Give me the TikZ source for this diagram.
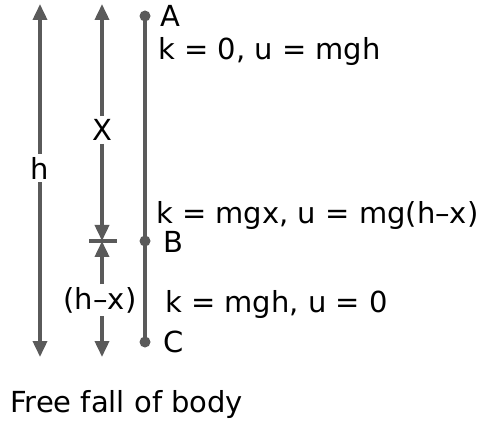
\documentclass[tikz,border=0pt]{standalone}
\usepackage{fontspec}
\setmainfont{DejaVu Sans}
\usetikzlibrary{arrows.meta}
\definecolor{ink}{HTML}{5A5A5A}
\tikzset{
  dim/.style={draw=ink, line width=3.6pt, -{Triangle[length=16pt,width=14pt]}},
  rod/.style={draw=ink, line width=3.6pt},
  txt/.style={font=\fontsize{29}{33}\selectfont, text=black, inner sep=0pt, anchor=base west},
  lab/.style={font=\fontsize{29}{33}\selectfont, text=black, fill=white, inner sep=3pt},
  pt/.style={circle, fill=ink, inner sep=0pt, minimum size=11pt}
}
\begin{document}
\begin{tikzpicture}[x=1pt,y=-1pt]
\useasboundingbox (0,0) rectangle (482,422);
% points
\node[pt] (A) at (145,16) {};
\node[pt] (B) at (145,241) {};
\node[pt] (C) at (145,342) {};
\draw[rod] (A.center) -- (C.center);
% h arrow
\coordinate (hT) at (40,4);
\coordinate (hB) at (40,357);
\node[lab] (h) at (40,168) {h};
\draw[dim] (h) -- (hT);
\draw[dim] (h) -- (hB);
% x arrow
\coordinate (xT) at (102,4);
\coordinate (xM) at (102,241);
\coordinate (xB) at (102,357);
\node[lab] (X) at (102,130) {X};
\draw[dim] (X) -- (xT);
\draw[dim] (X) -- (xM);
\node[lab] (hx) at (100,300) {(h–x)};
\coordinate (hxT) at (102,284);
\coordinate (hxB) at (102,316);
\draw[dim] (hxT) -- (xM);
\draw[dim] (hxB) -- (xB);
\coordinate (tL) at (89,241);
\coordinate (tR) at (117,241);
\draw[rod] (tL) -- (tR);
% labels
\node[txt] (lA) at (160,27) {A};
\node[txt] (eA) at (158,60) {k = 0, u = mgh};
\node[txt] (eB) at (156,224) {k = mgx, u = mg(h–x)};
\node[txt] (lB) at (163,253) {B};
\node[txt] (eC) at (165,312) {k = mgh, u = 0};
\node[txt] (lC) at (163,352) {C};
\node[txt] (cap) at (10,412) {Free fall of body};
\end{tikzpicture}
\end{document}
